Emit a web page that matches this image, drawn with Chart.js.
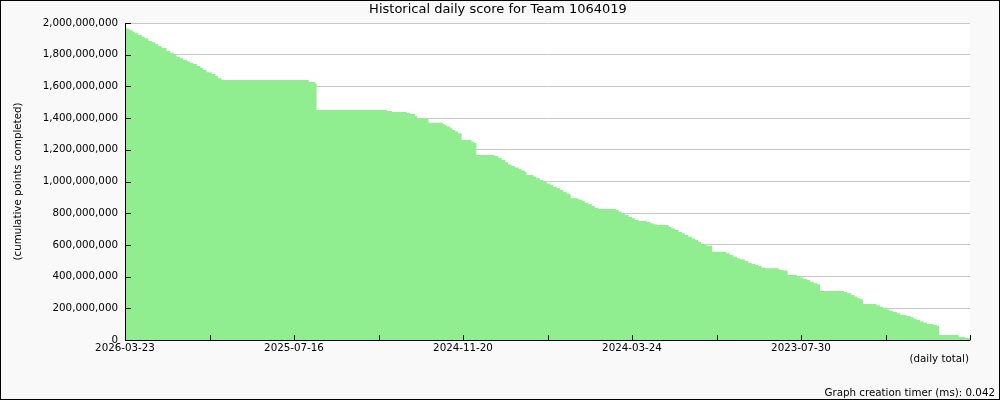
<!DOCTYPE html>
<html>
<head>
<meta charset="utf-8">
<script src="https://cdn.jsdelivr.net/npm/chart.js@4/dist/chart.umd.min.js"></script>
<style>
  body { margin: 0; background: #f9f9f9; }
  canvas { display: block; }
</style>
</head>
<body>
<canvas id="miCanvas" width="1000" height="400"></canvas>
<script>
// dias (indice) donde cambia el nivel, y el puntaje acumulado (millones)
const stepDay = [
  0, 2, 5, 7, 11, 14, 19, 24, 28, 33, 38, 43, 47, 52, 59, 64, 69, 73, 78, 83,
  88, 92, 97, 102, 107, 111, 116, 123, 128, 132, 137, 141, 261, 265, 270, 272,
  372, 379, 400, 405, 412, 415, 431, 451, 454, 457, 462, 465, 469, 473, 478,
  492, 496, 499, 525, 530, 535, 540, 544, 549, 554, 559, 563, 568, 570, 580,
  584, 589, 594, 599, 604, 608, 613, 618, 622, 627, 631, 633, 644, 649, 653,
  658, 663, 667, 672, 697, 701, 705, 710, 715, 720, 724, 729, 741, 746, 750,
  755, 772, 776, 781, 786, 791, 795, 800, 805, 810, 814, 818, 826, 834, 854,
  859, 864, 869, 873, 880, 885, 890, 895, 899, 904, 909, 928, 930, 935, 941,
  954, 959, 963, 968, 973, 978, 983, 987, 1021, 1026, 1031, 1036, 1040, 1044,
  1048, 1067, 1072, 1077, 1082, 1086, 1091, 1096, 1101, 1110, 1115, 1120, 1124,
  1129, 1134, 1139, 1148, 1153, 1156, 1184, 1193, 1200
];
const scoreMillions = [
  1973, 1966, 1960, 1954, 1945, 1935, 1924, 1914, 1903, 1888, 1878, 1867, 1855,
  1842, 1823, 1813, 1800, 1787, 1777, 1766, 1758, 1750, 1741, 1729, 1718, 1703,
  1689, 1678, 1666, 1651, 1642, 1640, 1630, 1628, 1620, 1451, 1445, 1438, 1432,
  1426, 1415, 1398, 1371, 1363, 1355, 1347, 1336, 1325, 1315, 1304, 1262, 1251,
  1243, 1167, 1161, 1150, 1136, 1121, 1108, 1098, 1089, 1079, 1070, 1060, 1041,
  1032, 1020, 1009, 999, 988, 978, 967, 957, 946, 936, 925, 919, 894, 887, 877,
  866, 856, 845, 835, 826, 820, 810, 799, 789, 778, 768, 757, 751, 744, 736,
  730, 726, 715, 704, 694, 683, 673, 662, 652, 641, 631, 620, 606, 593, 557,
  547, 536, 526, 515, 509, 498, 488, 479, 473, 467, 458, 452, 446, 442, 438,
  410, 404, 395, 387, 378, 368, 358, 351, 309, 303, 295, 284, 274, 263, 257,
  227, 219, 210, 200, 193, 185, 177, 168, 158, 151, 143, 134, 126, 117, 109,
  101, 95, 88, 32, 19, 13, 13
];
const tickLabels = ["2026-03-23", "2025-07-16", "2024-11-20", "2024-03-24", "2023-07-30"];
const labelEvery = 240;
const totalDays = 1200;

const puntos = [];
for (let i = 0; i < stepDay.length; i++) {
  puntos.push({ x: stepDay[i], y: scoreMillions[i] * 1e6 });
}

const FONT = "DejaVu Sans";

const decoracion = {
  id: "decoracion",
  beforeDraw(chart) {
    const c = chart.ctx;
    const a = chart.chartArea;
    c.save();
    c.fillStyle = "#f9f9f9";
    c.fillRect(0, 0, chart.width, chart.height);
    c.fillStyle = "#ffffff";
    c.fillRect(a.left, a.top, a.right - a.left, a.bottom - a.top);
    c.restore();
  },
  afterDatasetsDraw(chart) {
    const c = chart.ctx;
    const a = chart.chartArea;
    const xs = chart.scales.x;
    const ys = chart.scales.y;
    c.save();
    c.strokeStyle = "#000";
    c.lineWidth = 1;
    c.beginPath();
    // ejes
    c.moveTo(a.left + 0.5, a.top);
    c.lineTo(a.left + 0.5, a.bottom + 0.5);
    c.lineTo(a.right + 0.5, a.bottom + 0.5);
    // marcas hacia adentro
    xs.ticks.forEach((t) => {
      const px = Math.round(xs.getPixelForValue(t.value)) + 0.5;
      c.moveTo(px, a.bottom);
      c.lineTo(px, a.bottom - 5);
    });
    ys.ticks.forEach((t) => {
      const py = Math.round(ys.getPixelForValue(t.value)) + 0.5;
      c.moveTo(a.left, py);
      c.lineTo(a.left + 6, py);
    });
    c.stroke();

    // textos
    c.fillStyle = "#000";
    c.textBaseline = "middle";
    c.font = "13px '" + FONT + "'";
    c.textAlign = "center";
    c.fillText("Historical daily score for Team 1064019", 498, 10);
    c.font = "10.3px '" + FONT + "'";
    c.textAlign = "right";
    c.fillText("(daily total)", a.right - 1, 359);
    c.fillText("Graph creation timer (ms): 0.042", 995, 393);
    c.translate(18, (a.top + a.bottom) / 2);
    c.rotate(-Math.PI / 2);
    c.textAlign = "center";
    c.fillText("(cumulative points completed)", 0, 0);
    c.restore();

    // marco
    c.save();
    c.strokeStyle = "#000";
    c.strokeRect(0.5, 0.5, chart.width - 1, chart.height - 1);
    c.restore();
  },
};

const ctx = document.getElementById("miCanvas");
const myChart = new Chart(ctx, {
  type: "line",
  data: {
    datasets: [
      {
        label: "Score",
        data: puntos,
        stepped: true,
        fill: "origin",
        backgroundColor: "#90ee90",
        borderWidth: 0,
        pointRadius: 0,
      },
    ],
  },
  options: {
    responsive: false,
    animation: false,
    layout: { padding: { left: 0, right: 30, top: 23, bottom: 0 } },
    plugins: {
      legend: { display: false },
      tooltip: { enabled: false },
    },
    scales: {
      x: {
        type: "linear",
        min: 0,
        max: totalDays,
        grid: { display: false, drawTicks: false },
        border: { display: false },
        afterFit: (s) => { s.height = 60; },
        ticks: {
          stepSize: labelEvery / 2,
          autoSkip: false,
          maxRotation: 0,
          padding: 2,
          color: "#000",
          font: { family: FONT, size: 10.3 },
          callback: (v) => (v % labelEvery === 0 && tickLabels[v / labelEvery]) ? tickLabels[v / labelEvery] : "",
        },
      },
      y: {
        min: 0,
        max: 2e9,
        grid: { color: "#c8c8c8", drawTicks: false },
        border: { display: false },
        afterFit: (s) => { s.width = 125; },
        ticks: {
          stepSize: 2e8,
          padding: 7,
          color: "#000",
          font: { family: FONT, size: 10.3 },
          callback: (v) => v.toLocaleString("en-US"),
        },
      },
    },
  },
  plugins: [decoracion],
});
</script>
</body>
</html>
